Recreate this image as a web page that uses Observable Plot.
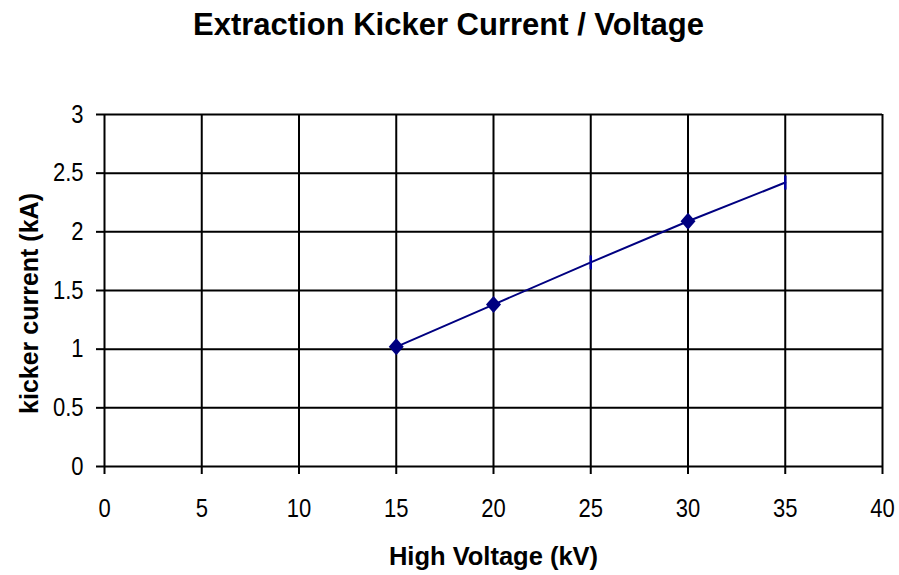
<!DOCTYPE html>
<html><head><meta charset="utf-8">
<script src="https://cdn.jsdelivr.net/npm/d3@7"></script>
<script src="https://cdn.jsdelivr.net/npm/@observablehq/plot@0.6"></script>
<style>
body{margin:0;background:#fff;}
#title{width:899px;height:60px;box-sizing:border-box;padding-top:8px;padding-right:2px;text-align:center;font:bold 31px "Liberation Sans",Arial,sans-serif;line-height:34px;color:#000;}
</style></head><body>
<div id="title"></div>
<div id="chart"></div>
<script>
const title = "Extraction Kicker Current / Voltage";
const xLabel = "High Voltage (kV)";
const yLabel = "kicker current (kA)";
const voltage = [15, 20, 25, 30, 35];
const current = [1.02, 1.38, 1.74, 2.09, 2.42];
const markerKind = ["diamond", "diamond", "bar", "diamond", "bar"];
const xTicks = [0, 5, 10, 15, 20, 25, 30, 35, 40];
const yTicks = [0, 0.5, 1, 1.5, 2, 2.5, 3];

document.getElementById("title").textContent = title;

const points = voltage.map((v, i) => ({v, c: current[i], kind: markerKind[i]}));

const diamond = {draw(ctx) { ctx.moveTo(0, -8.5); ctx.lineTo(7.5, 0); ctx.lineTo(0, 8.5); ctx.lineTo(-7.5, 0); ctx.closePath(); }};
const bar = {draw(ctx) { ctx.moveTo(0, -7); ctx.lineTo(0, 7); }};

const chart = Plot.plot({
  width: 899,
  height: 515,
  marginTop: 54,
  marginBottom: 109,
  marginLeft: 104,
  marginRight: 17,
  style: {fontFamily: "'Liberation Sans', Arial, sans-serif", fontSize: "22px", color: "#000", background: "#fff"},
  x: {domain: [0, 40]},
  y: {domain: [0, 3]},
  marks: [
    Plot.gridX(xTicks, {stroke: "#000", strokeOpacity: 1, strokeWidth: 2}),
    Plot.gridY(yTicks, {stroke: "#000", strokeOpacity: 1, strokeWidth: 2}),
    Plot.axisX(xTicks, {tickSize: 8, tickPadding: 24, strokeWidth: 2, fontSize: 22, label: null, tickFormat: d => `${d}`}),
    Plot.axisY(yTicks, {tickSize: 8, tickPadding: 13, strokeWidth: 2, fontSize: 22, label: null, tickFormat: d => `${d}`}),
    Plot.line(points, {x: "v", y: "c", stroke: "#000080", strokeWidth: 2}),
    Plot.dot(points.filter(d => d.kind === "diamond"), {x: "v", y: "c", symbol: diamond, fill: "#000080", stroke: "none"}),
    Plot.dot(points.filter(d => d.kind === "bar"), {x: "v", y: "c", symbol: bar, fill: "none", stroke: "#0000a0", strokeWidth: 2.5}),
    Plot.text([xLabel], {text: d => d, frameAnchor: "bottom", textAnchor: "middle", dy: 90.7, fontWeight: "bold", fontSize: 25.5, lineAnchor: "middle"}),
    Plot.text([yLabel], {text: d => d, frameAnchor: "left", textAnchor: "middle", dx: -75, dy: 13, rotate: -90, fontWeight: "bold", fontSize: 25, lineAnchor: "middle"})
  ]
});
chart.querySelectorAll('g[aria-label="x-axis tick label"] text, g[aria-label="y-axis tick label"] text').forEach(el => {
  const t = el.getAttribute("transform");
  if (t) el.setAttribute("transform", t + " scale(1,1.16)");
});
document.getElementById("chart").appendChild(chart);
</script>
</body></html>
